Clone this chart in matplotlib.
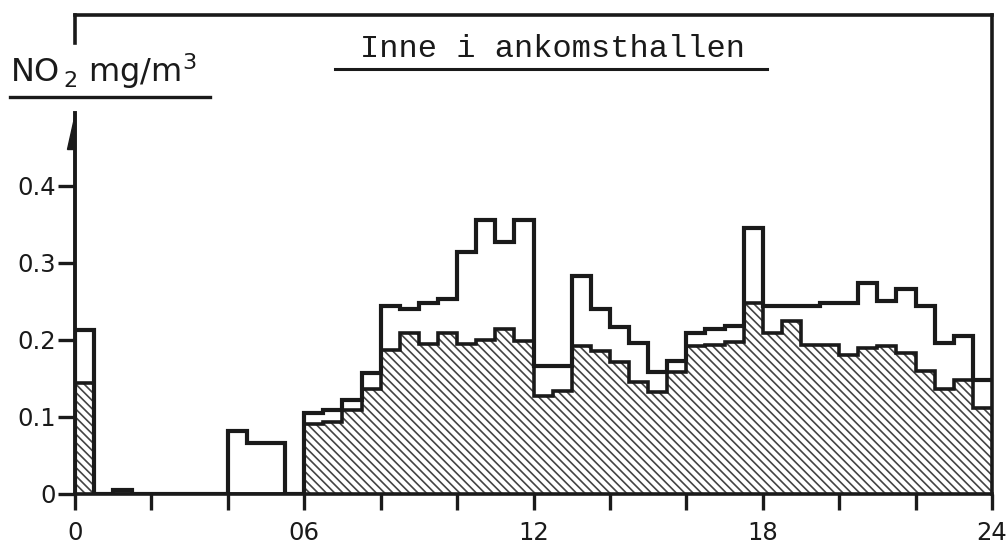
import numpy as np
import matplotlib
matplotlib.use("Agg")
import matplotlib.pyplot as plt
from matplotlib.lines import Line2D
from matplotlib.patches import Polygon

# Halvtimmesvärden NO2 (mg/m3), kl 00-24
timmar = np.arange(0, 24.5, 0.5)

ovre = [0.212, 0.0, 0.004, 0.0, 0.0, 0.0, 0.0, 0.0, 0.081, 0.066, 0.066, 0.0,
        0.105, 0.108, 0.121, 0.157, 0.244, 0.240, 0.248, 0.253, 0.314, 0.355, 0.327, 0.355,
        0.165, 0.165, 0.283, 0.240, 0.216, 0.195, 0.158, 0.172, 0.209, 0.213, 0.218, 0.345,
        0.243, 0.243, 0.243, 0.248, 0.248, 0.274, 0.250, 0.265, 0.243, 0.195, 0.205, 0.148]

undre = [0.144, 0.0, 0.0, 0.0, 0.0, 0.0, 0.0, 0.0, 0.0, 0.0, 0.0, 0.0,
         0.090, 0.093, 0.108, 0.136, 0.186, 0.209, 0.194, 0.209, 0.194, 0.200, 0.213, 0.198,
         0.126, 0.133, 0.191, 0.185, 0.171, 0.145, 0.132, 0.158, 0.191, 0.193, 0.197, 0.248,
         0.209, 0.224, 0.193, 0.193, 0.180, 0.189, 0.191, 0.183, 0.159, 0.136, 0.148, 0.111]

yticks = [0, 0.1, 0.2, 0.3, 0.4]
ytick_labels = ["0", "0.1", "0.2", "0.3", "0.4"]
xticks = [0, 6, 12, 18, 24]
xtick_labels = ["0", "06", "12", "18", "24"]

W, H = 1007, 545
plt.rcParams["font.family"] = "DejaVu Sans"
plt.rcParams["mathtext.default"] = "regular"
plt.rcParams["hatch.linewidth"] = 1.2

fig = plt.figure(figsize=(W / 100, H / 100), dpi=100)
ax = fig.add_axes([75 / W, 1 - 493.5 / H, (992 - 75) / W, (493.5 - 15) / H])

ytop = (493.5 - 15) / 770
ax.set_xlim(0, 24)
ax.set_ylim(0, ytop)

ovre_s = np.append(ovre, ovre[-1])
undre_s = np.append(undre, undre[-1])

# skrafferad yta för det lägre värdet
ax.fill_between(timmar, undre_s, step="post", facecolor="white",
                edgecolor="#444444", linewidth=0, hatch="\\\\\\\\")

ax.step(timmar, undre_s, where="post", color="#1a1a1a", lw=2.6,
        solid_joinstyle="miter")
ax.step(timmar, ovre_s, where="post", color="#1a1a1a", lw=3.0,
        solid_joinstyle="miter")
ax.plot([0, 0], [0, ovre[0]], color="#1a1a1a", lw=3.0)

# ramen
ax.spines["left"].set_visible(False)
for side in ["top", "right", "bottom"]:
    ax.spines[side].set_linewidth(2.6)
    ax.spines[side].set_color("#1a1a1a")

ax.plot([0, 0], [0, 0.494], color="#1a1a1a", lw=2.8, clip_on=False)
ax.plot([0, 0], [0.585, ytop], color="#1a1a1a", lw=2.6, clip_on=False,
        solid_capstyle="projecting")
ax.add_patch(Polygon([[0, 0.494], [0, 0.448], [-0.2, 0.448]], closed=True,
                     facecolor="#1a1a1a", edgecolor="#1a1a1a", lw=1, clip_on=False))

ax.set_yticks(yticks)
ax.set_yticklabels(ytick_labels)
ax.set_xticks(xticks)
ax.set_xticklabels(xtick_labels)
ax.set_xticks(np.arange(0, 25, 2), minor=True)
ax.tick_params(axis="y", direction="out", length=12, width=2.4, pad=2,
               labelsize=17.5, colors="#1a1a1a")
ax.tick_params(axis="x", which="both", direction="out", length=11.5, width=2.4,
               pad=8, labelsize=17.5, colors="#1a1a1a")
ax.tick_params(axis="x", which="minor", labelbottom=False)

# rubrik med understrykning
fig.text(553 / W, 1 - 49 / H, "Inne i ankomsthallen", family="Liberation Mono",
         fontsize=23, ha="center", va="center", color="#1a1a1a")
fig.add_artist(Line2D([335 / W, 767 / W], [1 - 68.5 / H, 1 - 68.5 / H],
                      color="#1a1a1a", lw=2.2))

# enhetsetikett
fig.text(10 / W, 1 - 82 / H, "NO$_{\\,2}$ mg/m$^3$", fontsize=23,
         ha="left", va="baseline", color="#1a1a1a")
fig.add_artist(Line2D([10 / W, 210 / W], [1 - 97 / H, 1 - 97 / H],
                      color="#1a1a1a", lw=2.4))

fig.savefig("out.png", dpi=100, facecolor="white")
